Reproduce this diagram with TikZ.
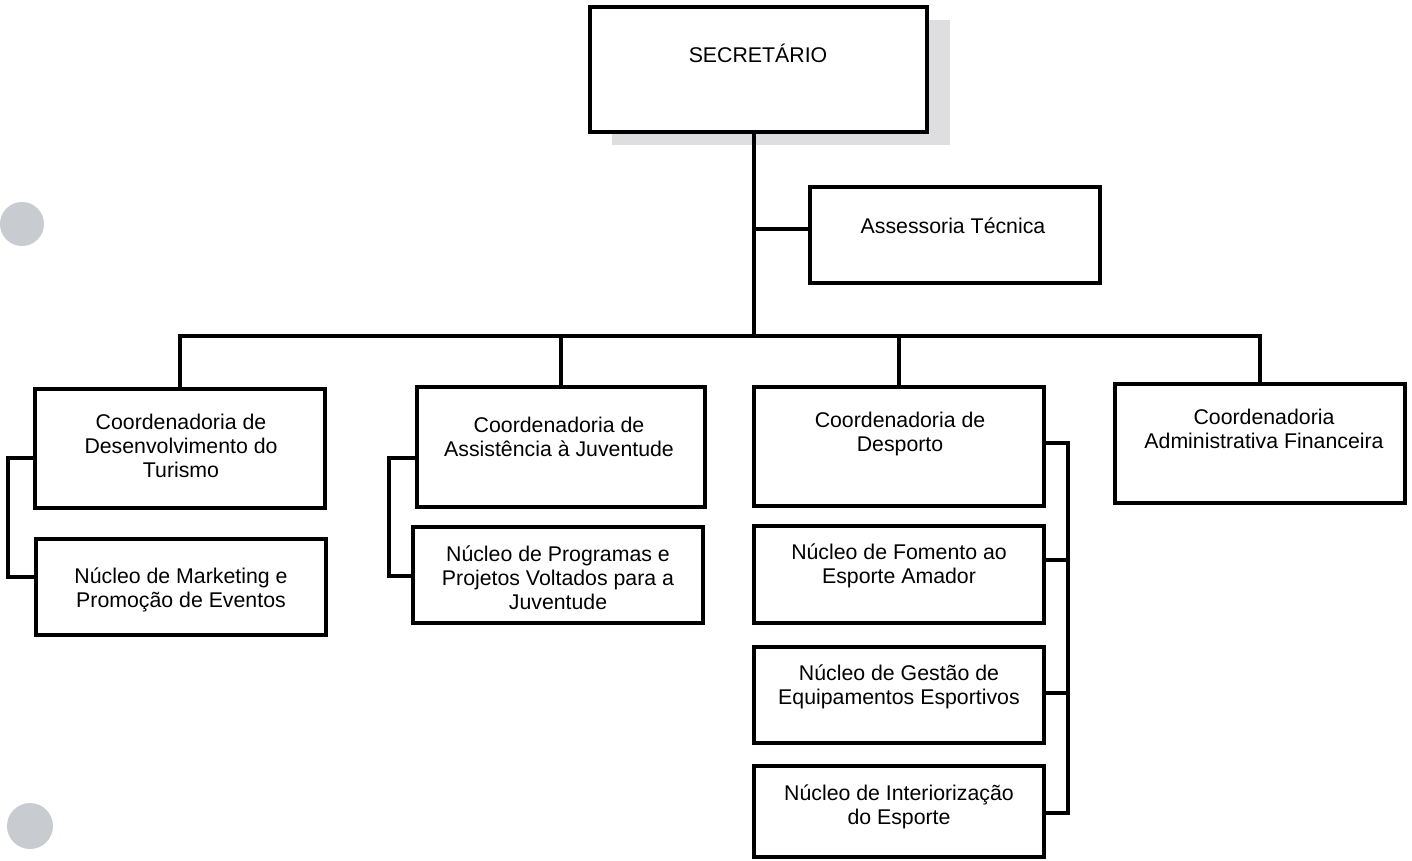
\documentclass[tikz,border=0pt]{standalone}
\usepackage{fontspec}
\setmainfont{Liberation Sans}
\definecolor{shadowgray}{RGB}{222,222,224}
\definecolor{holegray}{RGB}{200,204,209}
\tikzset{
  box/.style={draw=black, line width=3.4pt, fill=white, inner sep=0pt},
  txt/.style={anchor=base, align=center, inner sep=0pt,
              font=\fontsize{21.3}{24}\selectfont},
  link/.style={draw=black, line width=3.4pt},
  hole/.style={fill=holegray, draw=none}
}
\begin{document}
\begin{tikzpicture}[x=1pt, y=-1pt]
  \useasboundingbox (0,0) rectangle (1412,860);
  \fill[white] (0,0) rectangle (1412,860);

  % punch holes on the left margin
  \fill[hole] (22,224) circle (22);
  \fill[hole] (30,826) circle (23);

  % top box with its drop shadow (text nodes are anchored at the last baseline)
  \fill[shadowgray] (612,20) rectangle (950,145);
  \node[box, minimum width=337pt, minimum height=125pt] (sec) at (758.5,69.5) {};
  \node[txt] (sect) at (758,62) {SECRETÁRIO};

  % advisory box
  \node[box, minimum width=290pt, minimum height=96pt] (ass) at (955,235) {};
  \node[txt] (asst) at (953,233) {Assessoria Técnica};

  % coordination boxes
  \node[box, minimum width=290pt, minimum height=119pt] (c1) at (180,448.5) {};
  \node[txt] (c1t) at (181,477) {Coordenadoria de\\Desenvolvimento do\\Turismo};

  \node[box, minimum width=288pt, minimum height=120pt] (c2) at (561,447) {};
  \node[txt] (c2t) at (559,456) {Coordenadoria de\\Assistência à Juventude};

  \node[box, minimum width=290pt, minimum height=119pt] (c3) at (899,446.5) {};
  \node[txt] (c3t) at (900,451) {Coordenadoria de\\Desporto};

  \node[box, minimum width=290pt, minimum height=119pt] (c4) at (1260,443.5) {};
  \node[txt] (c4t) at (1264,448) {Coordenadoria\\Administrativa Financeira};

  % units below each coordination
  \node[box, minimum width=290pt, minimum height=96pt] (m1) at (181,587) {};
  \node[txt] (m1t) at (181,607) {Núcleo de Marketing e\\Promoção de Eventos};

  \node[box, minimum width=290pt, minimum height=96pt] (m2) at (558,575) {};
  \node[txt] (m2t) at (558,609) {Núcleo de Programas e\\Projetos Voltados para a\\Juventude};

  \node[box, minimum width=290pt, minimum height=97pt] (n1) at (899,574.5) {};
  \node[txt] (n1t) at (899,583) {Núcleo de Fomento ao\\Esporte Amador};

  \node[box, minimum width=290pt, minimum height=96pt] (n2) at (899,695) {};
  \node[txt] (n2t) at (899,704) {Núcleo de Gestão de\\Equipamentos Esportivos};

  \node[box, minimum width=290pt, minimum height=91pt] (n3) at (899,811.5) {};
  \node[txt] (n3t) at (899,824) {Núcleo de Interiorização\\do Esporte};

  % junction points of the connectors
  \coordinate (bus) at (754,336);
  \coordinate (jA) at (754,229);
  \coordinate (s1a) at (8,458);
  \coordinate (s1b) at (8,577);
  \coordinate (s2a) at (389,458);
  \coordinate (s2b) at (389,576);
  \coordinate (s3a) at (1068,443);
  \coordinate (f1) at (1068,560);
  \coordinate (f2) at (1068,693);
  \coordinate (f3) at (1068,813);

  % trunk and advisory branch
  \draw[link] (sec.south -| bus) -- (bus);
  \draw[link] (jA) -- (jA -| ass.west);

  % horizontal bus with drops
  \draw[link] (c1.north) -- (c1.north |- bus) -- (c4.north |- bus) -- (c4.north);
  \draw[link] (c2.north) -- (c2.north |- bus);
  \draw[link] (c3.north) -- (c3.north |- bus);

  % left-side brackets
  \draw[link] (c1.west |- s1a) -- (s1a) -- (s1b) -- (m1.west |- s1b);
  \draw[link] (c2.west |- s2a) -- (s2a) -- (s2b) -- (m2.west |- s2b);

  % right-side bracket of the sports coordination
  \draw[link] (c3.east |- s3a) -- (s3a) -- (f3) -- (n3.east |- f3);
  \draw[link] (n1.east |- f1) -- (f1);
  \draw[link] (n2.east |- f2) -- (f2);
\end{tikzpicture}
\end{document}
